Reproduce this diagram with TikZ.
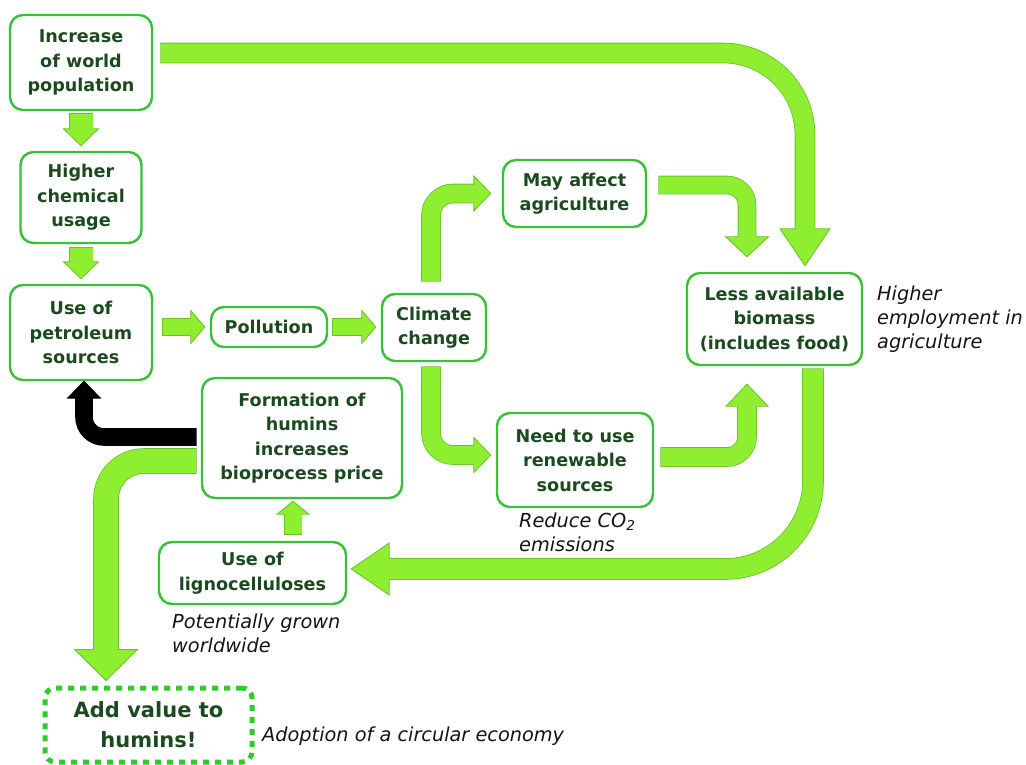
\documentclass[tikz,border=0pt]{standalone}
\usepackage{fontspec}
\setmainfont{DejaVu Sans}[BoldFont={DejaVu Sans Bold},ItalicFont={DejaVu Sans Oblique},BoldItalicFont={DejaVu Sans Bold Oblique}]
\usetikzlibrary{calc}
\definecolor{arrowfill}{HTML}{8EEF30}
\definecolor{arrowline}{HTML}{6CC02A}
\definecolor{boxline}{HTML}{38C038}
\definecolor{dotgreen}{HTML}{2DCB2D}
\definecolor{txt}{HTML}{1B4A1F}
\definecolor{labtxt}{HTML}{141414}
% #1 fill, #2 outline, #3 shaft width, #4 half head width, #5 head length, #6 angle, #7 path, #8 head base
\newcommand\fatarr[8]{%
  \draw[draw=#2, line width={#3pt+1.6pt}, shorten <=-0.8pt] #7;
  \begin{scope}[shift={#8}, rotate=#6]
    \filldraw[fill=#1, draw=#2, line width=0.8pt, line join=miter] (0,#4) -- (#5,0) -- (0,-#4) -- cycle;
  \end{scope}
  \draw[draw=#1, line width=#3pt, shorten >=-1.2pt] #7;
}
\begin{document}
\begin{tikzpicture}[x=1pt,y=-1pt,
  box/.style={draw=boxline, line width=2.4pt, rounded corners=13pt, fill=white, align=center,
    text=txt, inner sep=0pt, font=\bfseries\fontsize{17.6}{24.5}\selectfont},
  lab/.style={font=\itshape\fontsize{19.3}{24}\selectfont, text=labtxt, align=left,
    anchor=north west, inner sep=0pt}]
\useasboundingbox (0,0) rectangle (1026,764);

% boxes
\node[box, minimum width=142pt, minimum height=95pt] (b1) at (81,62.5) {Increase\\of world\\population};
\node[box, minimum width=121pt, minimum height=91pt] (b2) at (81,197.5) {Higher\\chemical\\usage};
\node[box, minimum width=142pt, minimum height=95pt] (b3) at (81,332.5) {Use of\\petroleum\\sources};
\node[box, minimum width=116pt, minimum height=40pt] (b4) at (269,327) {Pollution};
\node[box, minimum width=104pt, minimum height=67pt] (b5) at (434,327.5) {Climate\\change};
\node[box, minimum width=143pt, minimum height=67pt] (b6) at (574.5,193.5) {May affect\\agriculture};
\node[box, minimum width=156pt, minimum height=94pt] (b7) at (575,460) {Need to use\\renewable\\sources};
\node[box, minimum width=175pt, minimum height=92pt] (b8) at (774.5,319) {Less available\\biomass\\(includes food)};
\node[box, minimum width=200pt, minimum height=120pt] (b9) at (302,438) {Formation of\\humins\\increases\\bioprocess price};
\node[box, minimum width=187pt, minimum height=62pt] (b10) at (252.5,573) {Use of\\lignocelluloses};
\node[box, draw=dotgreen, line width=5pt, dash pattern=on 6pt off 6pt, rounded corners=10pt,
  minimum width=207pt, minimum height=74pt, font=\bfseries\fontsize{21}{30}\selectfont] (b11) at (148.5,725) {Add value to\\humins!};

% arrows
\fatarr{arrowfill}{arrowline}{23}{17.5}{17}{-90}{($(b1.south)+(0,3)$) -- ($(b1.south |- b2.north)+(0,-22)$)}{($(b1.south |- b2.north)+(0,-22)$)}
\fatarr{arrowfill}{arrowline}{23}{17.5}{17}{-90}{($(b2.south)+(0,4)$) -- ($(b2.south |- b3.north)+(0,-22)$)}{($(b2.south |- b3.north)+(0,-22)$)}
\fatarr{arrowfill}{arrowline}{16}{16.5}{14}{0}{($(b3.east |- b4.west)+(10,0)$) -- ($(b4.west)+(-19,0)$)}{($(b4.west)+(-19,0)$)}
\fatarr{arrowfill}{arrowline}{16}{16.5}{14}{0}{($(b4.east)+(5,0)$) -- ($(b5.west |- b4.east)+(-19,0)$)}{($(b5.west |- b4.east)+(-19,0)$)}
\fatarr{arrowfill}{arrowline}{18}{17.5}{17}{0}{($(b5.north)+(-3,-12)$) [rounded corners=22pt] |- ($(b6.west)+(-28,0)$)}{($(b6.west)+(-28,0)$)}
\fatarr{arrowfill}{arrowline}{18}{17.5}{17}{0}{($(b5.south)+(-3,5)$) [rounded corners=22pt] |- ($(b7.west)+(-22,-5)$)}{($(b7.west)+(-22,-5)$)}
\fatarr{arrowfill}{arrowline}{17}{21.5}{20}{-90}{($(b6.east)+(12,-8.5)$) [rounded corners=20pt] -| ($(b8.north)+(-27.5,-35)$)}{($(b8.north)+(-27.5,-35)$)}
\fatarr{arrowfill}{arrowline}{19}{25}{37}{-90}{($(b1.east)+(8,-9.5)$) [rounded corners=82pt] -| ($(b8.north)+(30.5,-43)$)}{($(b8.north)+(30.5,-43)$)}
\fatarr{arrowfill}{arrowline}{18}{21}{22}{90}{($(b7.east)+(7,-3)$) [rounded corners=20pt] -| ($(b8.south)+(-27.5,40)$)}{($(b8.south)+(-27.5,40)$)}
\fatarr{arrowfill}{arrowline}{20}{26}{38}{180}{($(b8.south)+(38.5,3)$) [rounded corners=88pt] |- ($(b10.east)+(42,-4)$)}{($(b10.east)+(42,-4)$)}
\fatarr{arrowfill}{arrowline}{24}{31.5}{31}{-90}{($(b9.west)+(-5,23)$) [rounded corners=38pt] -| ($(b11.north)+(-42.5,-36)$)}{($(b11.north)+(-42.5,-36)$)}
\fatarr{black}{black}{16}{16.5}{17}{90}{($(b9.west)+(-5,-1)$) [rounded corners=20pt] -| ($(b3.south)+(3,17)$)}{($(b3.south)+(3,17)$)}
\fatarr{arrowfill}{arrowline}{17}{16}{13}{90}{($(b10.north)+(40.5,-7)$) -- ($(b9.south)+(-9,15)$)}{($(b9.south)+(-9,15)$)}

% labels
\node[lab] (l1) at (877,286) {Higher\\employment in\\agriculture};
\node[lab] (l2) at (519,513) {Reduce CO\textsubscript{2}\\emissions};
\node[lab] (l3) at (172,614) {Potentially grown\\worldwide};
\node[lab] (l4) at (262,727) {Adoption of a circular economy};
\end{tikzpicture}
\end{document}
